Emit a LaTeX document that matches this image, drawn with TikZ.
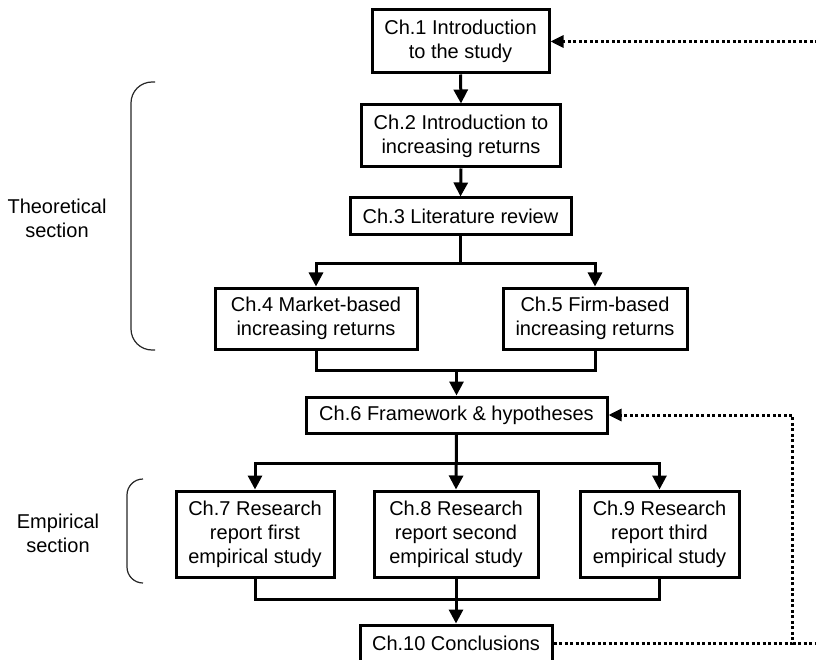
\documentclass[tikz,border=0pt]{standalone}
\usepackage{fontspec}
\setmainfont{Liberation Sans}
\usetikzlibrary{arrows.meta,calc}
\begin{document}
\begin{tikzpicture}[x=1pt,y=-1pt,
  chapter/.style={draw, line width=3pt, align=center, inner sep=0pt,
    font=\fontsize{20}{24}\selectfont},
  sidetext/.style={align=center, inner sep=0pt, font=\fontsize{20}{24}\selectfont},
  link/.style={line width=3pt},
  conn/.style={line width=3pt, -{Triangle[length=14pt,width=14pt]}},
  backlink/.style={line width=3pt, dash pattern=on 3pt off 2.5pt,
    -{Triangle[length=13pt,width=12pt]}},
  bracket/.style={line width=1.2pt, black!85}]
\useasboundingbox (0,0) rectangle (816,660);
\clip (0,0) rectangle (816,660);

% chapter boxes
\node[chapter, minimum width=177pt, minimum height=63pt] (c1) at (460.5,41.5) {Ch.1 Introduction\\to the study};
\node[chapter, minimum width=199pt, minimum height=62pt] (c2) at (461,136) {Ch.2 Introduction to\\increasing returns};
\node[chapter, minimum width=221pt, minimum height=37pt] (c3) at (460.5,216.5) {Ch.3 Literature review};
\node[chapter, minimum width=202pt, minimum height=61pt] (c4) at (316,318.5) {Ch.4 Market-based\\increasing returns};
\node[chapter, minimum width=184pt, minimum height=61pt] (c5) at (595,318.5) {Ch.5 Firm-based\\increasing returns};
\node[chapter, minimum width=301pt, minimum height=36pt] (c6) at (456.5,415) {Ch.6 Framework \& hypotheses};
\node[chapter, minimum width=158pt, minimum height=86pt] (c7) at (255,534) {Ch.7 Research\\report first\\empirical study};
\node[chapter, minimum width=164pt, minimum height=86pt] (c8) at (456,534) {Ch.8 Research\\report second\\empirical study};
\node[chapter, minimum width=159pt, minimum height=86pt] (c9) at (659.5,534) {Ch.9 Research\\report third\\empirical study};
\node[chapter, minimum width=192pt, minimum height=36pt] (c10) at (456,643) {Ch.10 Conclusions};

% section labels
\node[sidetext] (th) at (57,218) {Theoretical\\section};
\node[sidetext] (em) at (58,533) {Empirical\\section};

% section brackets
\draw[bracket, rounded corners=21pt] (155,82) -| (131,350) -- (155,350);
\draw[bracket, rounded corners=16pt] (143,479) -| (127,583) -- (143,583);

% theoretical flow
\draw[conn] (c1.south) -- (c2.north);
\draw[conn] (c2.south) -- (c3.north);
\coordinate (s1) at ($(c3.south)+(0,27)$);
\draw[link] (c3.south) -- (s1);
\draw[conn] (s1) -| (c4.north);
\draw[conn] (s1) -| (c5.north);
\coordinate (m1) at ($(c6.north)+(0,-25)$);
\draw[link] (c4.south) |- (m1) -| (c5.south);
\draw[conn] (m1) -- (c6.north);

% empirical flow
\coordinate (s2) at ($(c6.south)+(0,29)$);
\draw[conn] (c6.south) -- (c8.north);
\draw[conn] (s2) -| (c7.north);
\draw[conn] (s2) -| (c9.north);
\coordinate (m2) at ($(c10.north)+(0,-24)$);
\draw[link] (c7.south) |- (m2) -| (c9.south);
\draw[conn] (c8.south) -- (c10.north);

% feedback loops
\coordinate (d1) at (792.5,643);
\coordinate (d2) at (840,643);
\draw[backlink] (c10.east) -- (d1) |- (c6.east);
\draw[backlink] (d1) -- (d2) |- (c1.east);
\end{tikzpicture}
\end{document}
